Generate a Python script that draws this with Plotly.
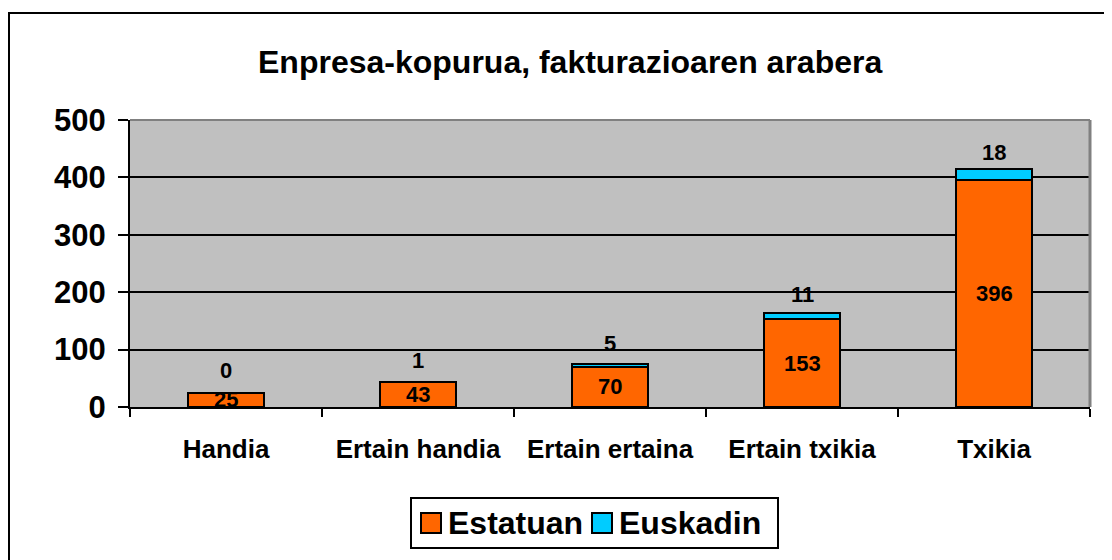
import plotly.graph_objects as go

categories = ["Handia", "Ertain handia", "Ertain ertaina", "Ertain txikia", "Txikia"]
estatuan = [25, 43, 70, 153, 396]
euskadin = [0, 1, 5, 11, 18]
series_names = ["Estatuan", "Euskadin"]
y_ticks = [0, 100, 200, 300, 400, 500]
title_text = "Enpresa-kopurua, fakturazioaren arabera"

ORANGE = "#FF6600"
CYAN = "#00CCFF"
FONT = "Liberation Sans, Arial, sans-serif"

fig = go.Figure()
fig.add_trace(go.Bar(x=categories, y=estatuan, name=series_names[0],
                     marker=dict(color=ORANGE, line=dict(color="black", width=2)),
                     width=0.4, showlegend=False))
fig.add_trace(go.Bar(x=categories, y=euskadin, name=series_names[1],
                     marker=dict(color=CYAN, line=dict(color="black", width=2)),
                     width=0.4, showlegend=False))

annotations = []
for c, e, k in zip(categories, estatuan, euskadin):
    annotations.append(dict(x=c, y=e / 2, xref="x", yref="y", text=f"<b>{e}</b>",
                            showarrow=False, font=dict(family=FONT, size=22, color="black")))
    annotations.append(dict(x=c, y=e + k / 2, xref="x", yref="y", text=f"<b>{k}</b>",
                            showarrow=False, yshift=22,
                            font=dict(family=FONT, size=22, color="black")))

# helper: page pixel -> paper coords (plot area spans 130..1090 x, 120..407 y on page)
def px_x(p):
    return (p - 130) / 960

def px_y(p):
    return (407 - p) / 287

# title
annotations.append(dict(x=px_x(570), y=px_y(62), xref="paper", yref="paper",
                        text=f"<b>{title_text}</b>",
                        showarrow=False, xanchor="center", yanchor="middle",
                        font=dict(family=FONT, size=32, color="black")))

shapes = []
# outer chart border
shapes.append(dict(type="rect", xref="paper", yref="paper", x0=px_x(9), x1=px_x(1125),
                   y0=px_y(13), y1=px_y(580), line=dict(color="black", width=2)))
# plot area grey top/right border
shapes.append(dict(type="line", xref="paper", yref="paper", x0=0, x1=1, y0=1, y1=1,
                   line=dict(color="#808080", width=2)))
shapes.append(dict(type="line", xref="paper", yref="paper", x0=1, x1=1, y0=0, y1=1,
                   line=dict(color="#808080", width=3)))
# legend box
shapes.append(dict(type="rect", xref="paper", yref="paper", x0=px_x(411), x1=px_x(778),
                   y0=px_y(498), y1=px_y(548), line=dict(color="black", width=2),
                   fillcolor="white"))
leg_items = [(series_names[0], ORANGE, 421), (series_names[1], CYAN, 592)]
for name, col, sx in leg_items:
    shapes.append(dict(type="rect", xref="paper", yref="paper", x0=px_x(sx), x1=px_x(sx + 20),
                       y0=px_y(513), y1=px_y(533), line=dict(color="black", width=2),
                       fillcolor=col))
    annotations.append(dict(x=px_x(sx + 25), y=px_y(523), xref="paper", yref="paper",
                            text=f"<b>{name}</b>", showarrow=False, xanchor="left",
                            yanchor="middle", font=dict(family=FONT, size=32, color="black")))

# page has an 8px body margin, so the figure is offset by 8px; compensate in margins
fig.update_layout(
    width=1112, height=560,
    margin=dict(l=122, r=30, t=112, b=161),
    barmode="stack",
    paper_bgcolor="white",
    plot_bgcolor="#C0C0C0",
    showlegend=False,
    annotations=annotations,
    shapes=shapes,
    font=dict(family=FONT, color="black"),
    xaxis=dict(showline=True, linecolor="black", linewidth=2, ticks="outside",
               tickson="boundaries", ticklen=8, tickwidth=2, tickcolor="black",
               tickfont=dict(family=FONT, size=26, color="black"),
               ticklabelstandoff=18,
               tickvals=categories, ticktext=[f"<b>{c}</b>" for c in categories],
               showgrid=False, fixedrange=True),
    yaxis=dict(range=[0, 500], tickvals=y_ticks, ticktext=[f"<b>{t}</b>" for t in y_ticks],
               showline=True, linecolor="black", linewidth=2, ticks="outside",
               ticklen=10, tickwidth=2, tickcolor="black",
               tickfont=dict(family=FONT, size=31, color="black"),
               ticklabelstandoff=6,
               showgrid=True, gridcolor="black", gridwidth=2, zeroline=False,
               fixedrange=True),
)

fig.write_html("out.html")
